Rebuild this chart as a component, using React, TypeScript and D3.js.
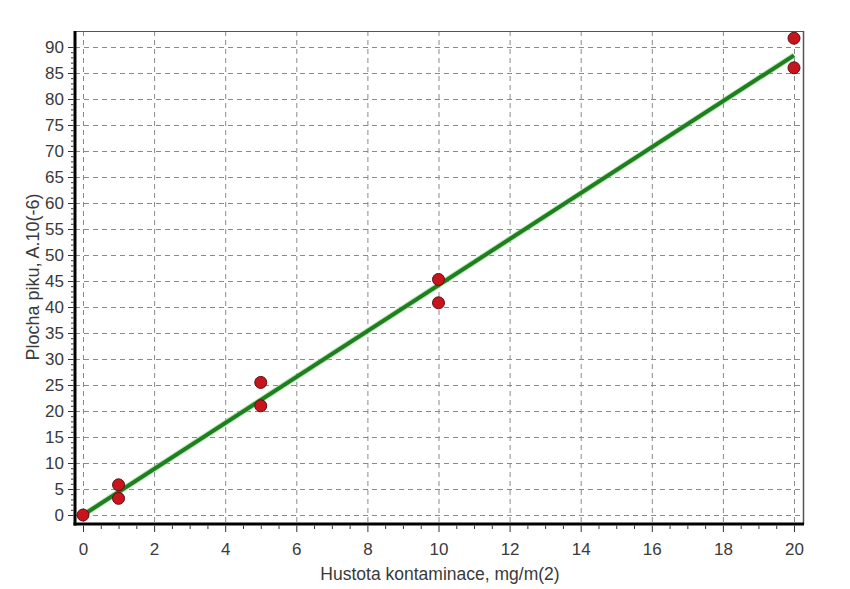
import React, { useEffect, useRef } from 'react';
import * as d3 from 'd3';

// measured points (x: mg/m(2), y: peak area)
const pointX = [0, 1, 1, 5, 5, 10, 10, 20, 20];
const pointY = [0, 5.8, 3.2, 25.5, 21, 45.3, 40.8, 91.7, 86];
// calibration line end points
const fitX = [0, 20];
const fitY = [0, 88.4];
const xTicks = [0, 2, 4, 6, 8, 10, 12, 14, 16, 18, 20];
const yTicks = [0, 5, 10, 15, 20, 25, 30, 35, 40, 45, 50, 55, 60, 65, 70, 75, 80, 85, 90];

const App = () => {
  const svgRef = useRef(null);

  useEffect(() => {
    const W = 850, H = 589;
    const left = 75, right = 803, top = 31, bottom = 524;

    const svg = d3.select(svgRef.current);
    svg.selectAll('*').remove();
    svg.attr('width', W).attr('height', H);

    svg.append('rect').attr('width', W).attr('height', H).attr('fill', '#fff');

    const x = d3.scaleLinear().domain([0, 20]).range([83, 794]);
    const y = d3.scaleLinear().domain([0, 90]).range([515, 47]);

    const font = 'Liberation Sans, Arial, sans-serif';
    const txt = '#3a3a3a';

    // grid
    const grid = svg.append('g')
      .attr('stroke', '#8a8a8a')
      .attr('stroke-width', 1)
      .attr('stroke-dasharray', '5,4');
    grid.selectAll('.gy').data(yTicks).enter().append('line')
      .attr('x1', left).attr('x2', right)
      .attr('y1', d => y(d) + 0.5).attr('y2', d => y(d) + 0.5);
    grid.selectAll('.gx').data(xTicks).enter().append('line')
      .attr('y1', top).attr('y2', bottom)
      .attr('x1', d => x(d) + 0.5).attr('x2', d => x(d) + 0.5);

    // frame
    svg.append('line').attr('x1', left).attr('x2', right).attr('y1', top + 0.5).attr('y2', top + 0.5)
      .attr('stroke', '#555').attr('stroke-width', 1);
    svg.append('line').attr('x1', right + 0.5).attr('x2', right + 0.5).attr('y1', top).attr('y2', bottom)
      .attr('stroke', '#555').attr('stroke-width', 1.5);
    svg.append('line').attr('x1', left).attr('x2', left).attr('y1', top).attr('y2', bottom + 1.5)
      .attr('stroke', '#000').attr('stroke-width', 3);
    svg.append('line').attr('x1', left - 1.5).attr('x2', right + 1).attr('y1', bottom).attr('y2', bottom)
      .attr('stroke', '#000').attr('stroke-width', 3);

    // y axis ticks
    const yAxisG = svg.append('g').attr('stroke', '#333').attr('stroke-width', 1);
    yAxisG.selectAll('.ym').data(d3.range(0, 91, 1)).enter().append('line')
      .attr('x1', left - 1.5).attr('x2', d => (d % 5 === 0 ? left - 7 : left - 4))
      .attr('y1', d => y(d) + 0.5).attr('y2', d => y(d) + 0.5);
    svg.selectAll('.yl').data(yTicks).enter().append('text')
      .attr('x', 64).attr('y', d => y(d) + 6)
      .attr('text-anchor', 'end')
      .attr('font-family', font).attr('font-size', 17).attr('fill', txt)
      .text(d => d);

    // x axis ticks
    const xAxisG = svg.append('g').attr('stroke', '#333').attr('stroke-width', 1);
    xAxisG.selectAll('.xm').data(d3.range(0, 20.01, 0.5)).enter().append('line')
      .attr('y1', bottom + 1.5).attr('y2', d => (d % 2 === 0 ? bottom + 8 : bottom + 5))
      .attr('x1', d => x(d) + 0.5).attr('x2', d => x(d) + 0.5);
    svg.selectAll('.xl').data(xTicks).enter().append('text')
      .attr('x', d => x(d) + 0.5).attr('y', 555)
      .attr('text-anchor', 'middle')
      .attr('font-family', font).attr('font-size', 17).attr('fill', txt)
      .text(d => d);

    // titles
    svg.append('text')
      .attr('x', 440).attr('y', 580)
      .attr('text-anchor', 'middle')
      .attr('font-family', font).attr('font-size', 17.5).attr('fill', txt)
      .text('Hustota kontaminace, mg/m(2)');
    svg.append('text')
      .attr('transform', `translate(39, 277) rotate(-90)`)
      .attr('text-anchor', 'middle')
      .attr('font-family', font).attr('font-size', 18).attr('fill', txt)
      .text('Plocha piku, A.10(-6)');

    // fitted line
    const fit = fitX.map((d, i) => [d, fitY[i]]);
    const line = d3.line().x(d => x(d[0])).y(d => y(d[1]));
    svg.append('path').datum(fit).attr('d', line)
      .attr('fill', 'none').attr('stroke', '#8fd88f').attr('stroke-width', 6).attr('stroke-opacity', 0.6);
    svg.append('path').datum(fit).attr('d', line)
      .attr('fill', 'none').attr('stroke', '#1f7f1f').attr('stroke-width', 4);

    // points
    const pts = pointX.map((d, i) => [d, pointY[i]]);
    svg.selectAll('.pt').data(pts).enter().append('circle')
      .attr('cx', d => x(d[0])).attr('cy', d => y(d[1]))
      .attr('r', 6)
      .attr('fill', '#c8141c')
      .attr('stroke', '#5a1010').attr('stroke-width', 1);
  }, []);

  return (
    <svg ref={svgRef} style={{ position: 'absolute', left: 0, top: 0 }}></svg>
  );
};

export default App;
